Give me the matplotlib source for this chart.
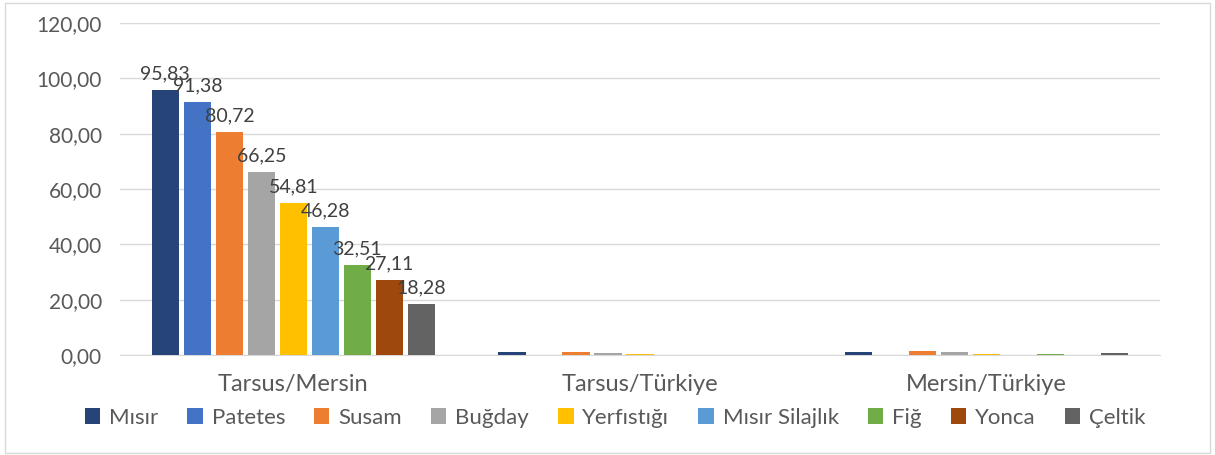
import matplotlib
matplotlib.use("Agg")
import matplotlib.pyplot as plt
import numpy as np

groups = ["Tarsus/Mersin", "Tarsus/Türkiye", "Mersin/Türkiye"]
crops = ["Mısır", "Patetes", "Susam", "Buğday", "Yerfıstığı", "Mısır Silajlık", "Fiğ", "Yonca", "Çeltik"]
colors = ["#264478", "#4472C4", "#ED7D31", "#A5A5A5", "#FFC000", "#5B9BD5", "#70AD47", "#9E480E", "#636363"]
tarsus_mersin = [95.83, 91.38, 80.72, 66.25, 54.81, 46.28, 32.51, 27.11, 18.28]
tarsus_turkiye = [1.1, 0.1, 1.2, 0.8, 0.3, 0.05, 0.05, 0.0, 0.0]
mersin_turkiye = [1.2, 0.1, 1.5, 1.1, 0.4, 0.1, 0.3, 0.0, 0.7]
yticks = [0, 20, 40, 60, 80, 100, 120]

plt.rcParams['font.family'] = ['Lato', 'DejaVu Sans']
fig = plt.figure(figsize=(12.15, 4.55), dpi=100)
ax = fig.add_axes([120/1215, 1-355/455, 1040/1215, 332/455])

data = np.array([tarsus_mersin, tarsus_turkiye, mersin_turkiye])
x = np.arange(len(groups))
slot = 0.0923
width = 0.078
for i, (crop, col) in enumerate(zip(crops, colors)):
    pos = x + (i - 4) * slot
    ax.bar(pos, data[:, i], width=width, color=col, label=crop, zorder=3)
    ax.text(pos[0], data[0, i] + 2.8, f"{data[0, i]:.2f}".replace(".", ","),
            ha="center", va="bottom", fontsize=14, color="#404040", zorder=4)

ax.set_xlim(-0.5, 2.5)
ax.set_ylim(0, 120)
ax.set_yticks(yticks)
ax.set_yticklabels([f"{v:.2f}".replace(".", ",") for v in yticks], fontsize=15, color="#595959")
ax.set_xticks(x)
ax.set_xticklabels(groups, fontsize=17, color="#595959")
ax.tick_params(axis="both", length=0)
ax.tick_params(axis="y", pad=13)
ax.tick_params(axis="x", pad=14)
ax.grid(axis="y", color="#D9D9D9", linewidth=1, zorder=0)
for s in ["top", "right", "left"]:
    ax.spines[s].set_visible(False)
ax.spines["bottom"].set_color("#D9D9D9")

fig.legend(loc="center", bbox_to_anchor=(615/1215, 1-418/455), ncol=9, frameon=False,
           fontsize=16, handlelength=0.7, handleheight=0.7, handletextpad=0.4,
           columnspacing=1.3, labelcolor="#595959")

border = plt.Rectangle((0.004, 0.004), 0.992, 0.99, transform=fig.transFigure, fill=False,
                       edgecolor="#D9D9D9", linewidth=1)
fig.add_artist(border)
fig.savefig("out.png", dpi=100)
